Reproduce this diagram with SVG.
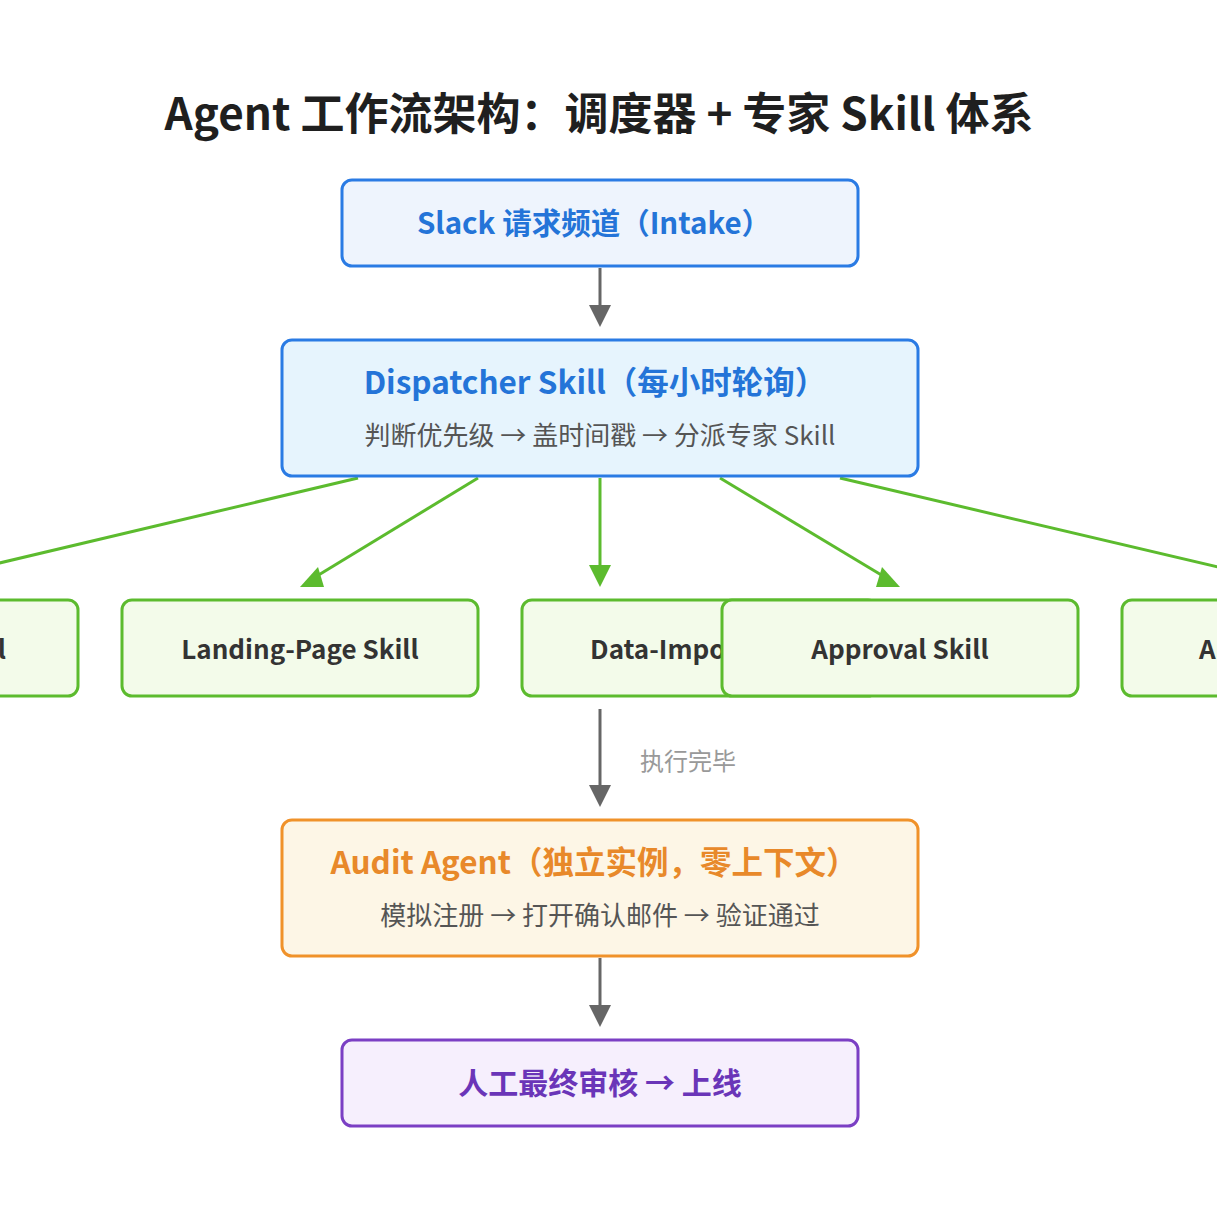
<svg xmlns="http://www.w3.org/2000/svg" width="1217" height="1216" viewBox="0 0 1217 1216">
<style>
text{font-family:"Noto Sans CJK SC","Noto Sans",sans-serif;text-anchor:middle;dominant-baseline:central}
.title{font-size:44px;font-weight:700;fill:#1f1f1f}
.box{stroke-width:3}
.blue{fill:#eef4fd;stroke:#2a7be4}
.dblue{fill:#e6f4fd;stroke:#2a7be4}
.green{fill:#f3fbea;stroke:#5cbb2e}
.orange{fill:#fdf6e6;stroke:#f0922a}
.purple{fill:#f6effd;stroke:#7b3fc4}
.h-slack{font-size:29.5px;font-weight:700;fill:#2474d8}
.h-blue{font-size:31.5px;font-weight:700;fill:#2474d8}
.h-orange{font-size:31.5px;font-weight:700;fill:#e8892a}
.h-purple{font-size:30px;font-weight:700;fill:#6a35b8}
.sub{font-size:26px;fill:#555}
.skill{font-size:26px;font-weight:700;fill:#333}
.lbl{font-size:24px;fill:#999}
.gray{stroke:#666;stroke-width:3;fill:none}
.gr{stroke:#5cbb2e;stroke-width:3;fill:none}
</style>
<rect width="1217" height="1216" fill="#ffffff"/>
<text class="title" x="599" y="111">Agent 工作流架构：调度器 + 专家 Skill 体系</text>

<g id="connectors">
<line class="gray" x1="600" y1="268" x2="600" y2="306"/>
<polygon points="589,305 611,305 600,327" fill="#666"/>
<line class="gr" x1="358" y1="478" x2="-89" y2="584"/>
<line class="gr" x1="478" y1="478" x2="312" y2="579"/>
<polygon points="300,587 318,567 324,587" fill="#5cbb2e"/>
<line class="gr" x1="600" y1="478" x2="600" y2="566"/>
<polygon points="589,565 611,565 600,587" fill="#5cbb2e"/>
<line class="gr" x1="720" y1="478" x2="888" y2="579"/>
<polygon points="900,587 876,587 882,567" fill="#5cbb2e"/>
<line class="gr" x1="840" y1="478" x2="1290" y2="584"/>
<line class="gray" x1="600" y1="709" x2="600" y2="786"/>
<polygon points="589,785 611,785 600,807" fill="#666"/>
<text class="lbl" x="688" y="759">执行完毕</text>
<line class="gray" x1="600" y1="958" x2="600" y2="1006"/>
<polygon points="589,1005 611,1005 600,1027" fill="#666"/>
</g>

<g id="slack">
<rect class="box blue" x="342" y="180" width="516" height="86" rx="10"/>
<text class="h-slack" x="594" y="221">Slack 请求频道（Intake）</text>
</g>
<g id="dispatcher">
<rect class="box dblue" x="282" y="340" width="636" height="136" rx="10"/>
<text class="h-blue" x="595" y="380">Dispatcher Skill（每小时轮询）</text>
<text class="sub" x="600" y="433">判断优先级 → 盖时间戳 → 分派专家 Skill</text>
</g>
<g id="skill-left">
<rect class="box green" x="-278" y="600" width="356" height="96" rx="10"/>
<text class="skill" x="6" y="647" style="text-anchor:end">l</text>
</g>
<g id="landing">
<rect class="box green" x="122" y="600" width="356" height="96" rx="10"/>
<text class="skill" x="300" y="647">Landing-Page Skill</text>
</g>
<g id="data-import">
<rect class="box green" x="522" y="600" width="356" height="96" rx="10"/>
<text class="skill" x="700" y="647">Data-Import Skill</text>
</g>
<g id="approval">
<rect class="box green" x="722" y="600" width="356" height="96" rx="10"/>
<text class="skill" x="900" y="647">Approval Skill</text>
</g>
<g id="skill-right">
<rect class="box green" x="1122" y="600" width="356" height="96" rx="10"/>
<text class="skill" x="1199" y="647" style="text-anchor:start">A</text>
</g>
<g id="audit">
<rect class="box orange" x="282" y="820" width="636" height="136" rx="10"/>
<text class="h-orange" x="594" y="860">Audit Agent（独立实例，零上下文）</text>
<text class="sub" x="600" y="913">模拟注册 → 打开确认邮件 → 验证通过</text>
</g>
<g id="final">
<rect class="box purple" x="342" y="1040" width="516" height="86" rx="10"/>
<text class="h-purple" x="600" y="1081">人工最终审核 → 上线</text>
</g>
</svg>
